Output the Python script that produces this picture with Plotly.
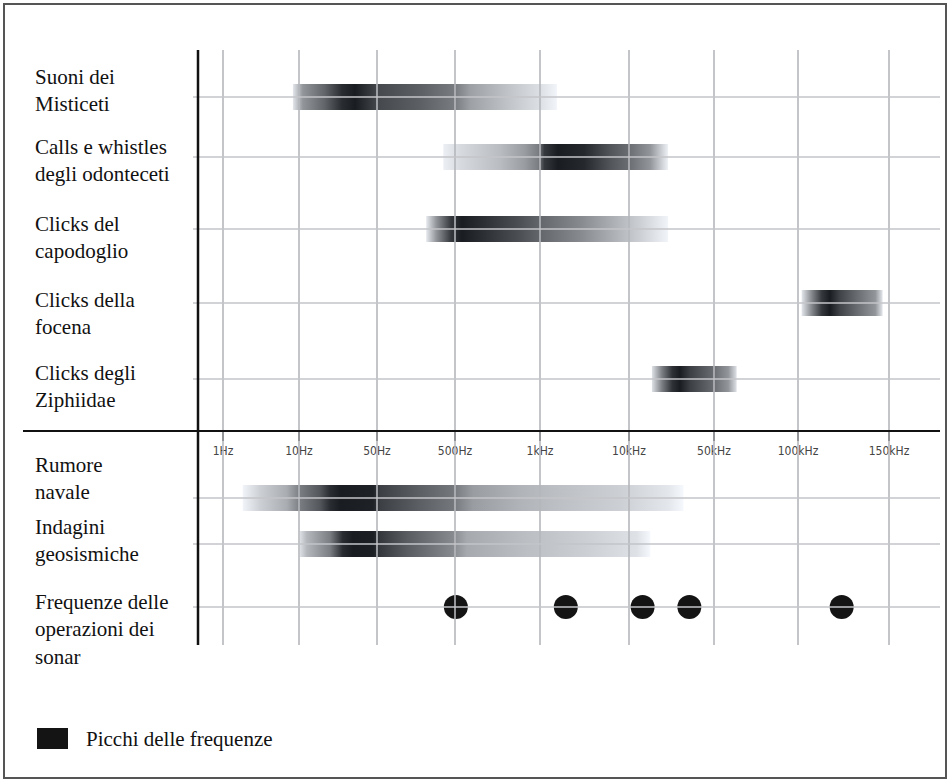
import numpy as np
import plotly.graph_objects as go

# ------------------------------------------------------------------ data
TICK_LABELS = ["1Hz", "10Hz", "50Hz", "500Hz", "1kHz", "10kHz", "50kHz", "100kHz", "150kHz"]

ROW_LABELS = [
    "Suoni dei<br>Misticeti",
    "Calls e whistles<br>degli odonteceti",
    "Clicks del<br>capodoglio",
    "Clicks della<br>focena",
    "Clicks degli<br>Ziphiidae",
    "Rumore<br>navale",
    "Indagini<br>geosismiche",
    "Frequenze delle<br>operazioni dei<br>sonar",
]

# band intensity profiles: position in tick-index units (0 = 1Hz ... 8 = 150kHz),
# intensity 0..1 (1 = frequency peak)
MISTICETI_POS = [0.92, 1.05, 1.33, 1.55, 1.72, 1.91, 2.01, 2.55, 3.00, 3.18, 3.65, 4.00, 4.19]
MISTICETI_INT = [0.10, 0.45, 0.66, 0.90, 0.97, 0.85, 0.78, 0.68, 0.56, 0.40, 0.24, 0.13, 0.04]

CALLS_POS = [2.85, 3.06, 3.53, 3.82, 3.98, 4.05, 4.20, 4.50, 4.80, 5.00, 5.25, 5.46]
CALLS_INT = [0.06, 0.15, 0.28, 0.42, 0.55, 0.85, 0.97, 0.92, 0.72, 0.62, 0.45, 0.05]

CAPODOGLIO_POS = [2.63, 2.76, 2.95, 3.08, 3.30, 3.76, 4.00, 4.45, 4.79, 5.13, 5.46]
CAPODOGLIO_INT = [0.08, 0.45, 0.85, 0.97, 0.90, 0.75, 0.65, 0.50, 0.35, 0.20, 0.04]

FOCENA_POS = [7.04, 7.15, 7.26, 7.35, 7.46, 7.68, 7.85, 7.93]
FOCENA_INT = [0.10, 0.50, 0.85, 0.97, 0.80, 0.60, 0.45, 0.10]

ZIPHIIDAE_POS = [5.27, 5.39, 5.51, 5.60, 5.72, 6.00, 6.17, 6.27]
ZIPHIIDAE_INT = [0.12, 0.55, 0.88, 0.97, 0.82, 0.62, 0.45, 0.12]

RUMORE_POS = [0.26, 0.49, 0.84, 1.01, 1.27, 1.40, 1.53, 1.95, 2.04, 2.55, 2.97, 3.21, 3.76, 4.15, 4.90, 5.46, 5.64]
RUMORE_INT = [0.04, 0.20, 0.35, 0.55, 0.72, 0.90, 0.97, 0.95, 0.82, 0.68, 0.58, 0.42, 0.32, 0.27, 0.20, 0.10, 0.02]

INDAGINI_POS = [1.01, 1.10, 1.40, 1.56, 1.69, 1.95, 2.04, 2.38, 2.97, 3.14, 3.76, 4.53, 5.09, 5.25]
INDAGINI_INT = [0.12, 0.30, 0.55, 0.90, 0.97, 0.96, 0.85, 0.70, 0.50, 0.36, 0.28, 0.20, 0.12, 0.02]

SONAR_PEAKS = [3.01, 4.29, 5.16, 5.71, 7.48]

LEGEND_LABEL = "Picchi delle frequenze"

# ------------------------------------------------------------------ layout constants
W, H = 950, 782
TICK_X = [223, 299, 377, 455, 540, 629, 714, 798, 889]      # non-uniform frequency scale
ROW_Y = [97, 157, 229, 303, 379, 498, 544, 607]
LABEL_Y = [90, 160, 237, 313, 386, 478, 540, 629]
HALF = 13
AXIS_X = 198
SEP_Y = 431
SERIF = "Liberation Serif, Times New Roman, serif"
NARROW = "Liberation Sans Narrow, DejaVu Sans Condensed, Arial Narrow, sans-serif"


def scale(idx):
    return np.interp(np.asarray(idx, dtype=float), np.arange(len(TICK_X)), TICK_X)


def grey(i):
    g = 250 - 232 * i
    return "rgb(%d,%d,%d)" % (round(g), min(255, round(g + 3)), min(255, round(g + 8)))


def band(pos_idx, inten, yc):
    xs = scale(pos_idx)
    x0, x1 = float(xs[0]), float(xs[-1])
    cs = [[(float(x) - x0) / (x1 - x0), grey(i)] for x, i in zip(xs, inten)]
    cs[0][0] = 0.0
    cs[-1][0] = 1.0
    return go.Scatter(
        x=[x0, x1, x1, x0, x0],
        y=[yc - HALF, yc - HALF, yc + HALF, yc + HALF, yc - HALF],
        mode="lines", line=dict(width=0), fill="toself",
        fillgradient=dict(type="horizontal", colorscale=cs, start=x0, stop=x1),
        hoverinfo="skip", showlegend=False,
    )


fig = go.Figure()
bands = [
    (MISTICETI_POS, MISTICETI_INT),
    (CALLS_POS, CALLS_INT),
    (CAPODOGLIO_POS, CAPODOGLIO_INT),
    (FOCENA_POS, FOCENA_INT),
    (ZIPHIIDAE_POS, ZIPHIIDAE_INT),
    (RUMORE_POS, RUMORE_INT),
    (INDAGINI_POS, INDAGINI_INT),
]
for k, (p, it) in enumerate(bands):
    fig.add_trace(band(p, it, ROW_Y[k]))

fig.add_trace(go.Scatter(
    x=scale(SONAR_PEAKS), y=[ROW_Y[7]] * len(SONAR_PEAKS), mode="markers",
    marker=dict(size=24, color="#141414", line=dict(width=0)),
    hoverinfo="skip", showlegend=False,
))

shapes = []
# outer frame
shapes.append(dict(type="rect", x0=4, x1=946, y0=4, y1=778, line=dict(color="#555555", width=2), layer="below"))
# vertical grid
for x in TICK_X:
    shapes.append(dict(type="line", x0=x, x1=x, y0=50, y1=645, line=dict(color="#b4b7bb", width=1.6), layer="above"))
# horizontal grid
for y in ROW_Y:
    shapes.append(dict(type="line", x0=193, x1=940, y0=y, y1=y, line=dict(color="#c3c5c9", width=1.5), layer="above"))
# main axis and separator
shapes.append(dict(type="line", x0=AXIS_X, x1=AXIS_X, y0=50, y1=645, line=dict(color="#111111", width=2.5), layer="above"))
shapes.append(dict(type="line", x0=23, x1=940, y0=SEP_Y, y1=SEP_Y, line=dict(color="#111111", width=2), layer="above"))
# legend swatch
shapes.append(dict(type="rect", x0=37, x1=68, y0=728, y1=749, fillcolor="#141414", line=dict(width=0), layer="above"))

annotations = []
for lab, y in zip(ROW_LABELS, LABEL_Y):
    annotations.append(dict(x=33, y=y, xref="x", yref="y", text=lab, showarrow=False,
                            xanchor="left", yanchor="middle", align="left",
                            font=dict(family=SERIF, size=21, color="#111111")))
annotations.append(dict(x=84, y=739, xref="x", yref="y", text=LEGEND_LABEL, showarrow=False,
                        xanchor="left", yanchor="middle",
                        font=dict(family=SERIF, size=21, color="#111111")))

fig.update_layout(
    width=W, height=H,
    margin=dict(l=0, r=0, t=0, b=0),
    paper_bgcolor="white", plot_bgcolor="white",
    shapes=shapes, annotations=annotations,
    showlegend=False,
    xaxis=dict(
        range=[0, W], domain=[0, 1], anchor="free", position=1 - SEP_Y / H,
        tickmode="array", tickvals=TICK_X, ticktext=TICK_LABELS,
        ticks="outside", ticklen=9, tickwidth=1.5, tickcolor="#111111",
        tickfont=dict(family=NARROW, size=12, color="#444444"),
        showgrid=False, zeroline=False, showline=False, fixedrange=True,
    ),
    yaxis=dict(range=[H, 0], domain=[0, 1], visible=False, fixedrange=True),
)

fig.write_html("out.html", config={"displayModeBar": False},
               post_script="document.body.style.margin='0px';")
